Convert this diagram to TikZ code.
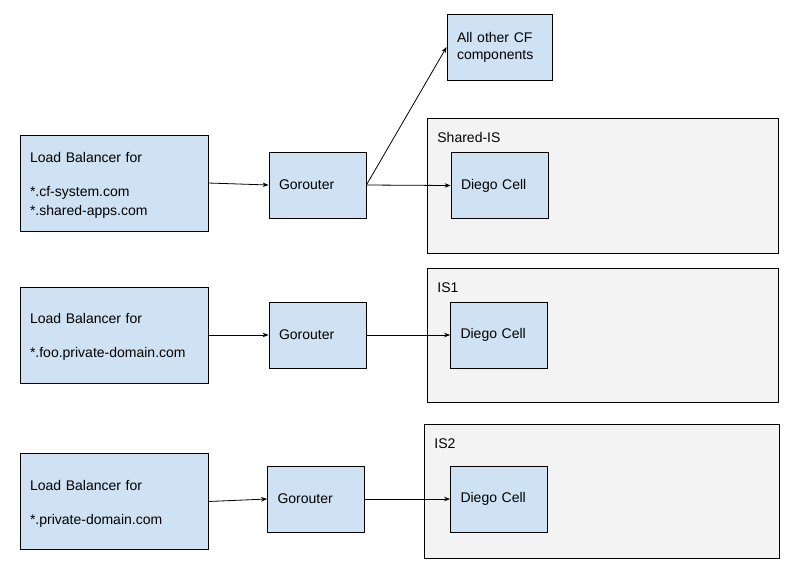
\documentclass[tikz,border=0pt]{standalone}
\usepackage{fontspec}
\setmainfont{Liberation Sans}
\usepackage{xcolor}
\usepackage{tikz}
\usetikzlibrary{arrows.meta,positioning}
\definecolor{cellblue}{HTML}{CFE2F3}
\definecolor{segmentgray}{HTML}{F3F3F3}
\tikzset{
	cellbox/.style={draw, fill=cellblue, inner xsep=10pt, inner ysep=0pt, align=left},
	lbbox/.style={cellbox, minimum width=188pt, minimum height=96pt, text width=168pt},
	routerbox/.style={cellbox, minimum width=97pt, minimum height=66pt, text width=77pt},
	segment/.style={draw, fill=segmentgray, anchor=north west, inner sep=0pt},
	segmentlabel/.style={anchor=base west, inner sep=0pt}
}
\newcommand{\plotIsolationSegment}[6]
{
	\node[segment, minimum width=#4, minimum height=#5] (#1) at (#2,#3) {};
	\node[segmentlabel] (#1-label) at ([xshift=10pt,yshift=-24pt]#1.north west) {#6};
}

\begin{document}
\begin{tikzpicture}[x=1pt,y=-1pt,>={Stealth[length=6pt,width=4.5pt]},thick,
	every node/.style={font=\fontsize{14}{19}\selectfont}]
\useasboundingbox (0,0) rectangle (798,582);

\plotIsolationSegment{SharedIS}{427}{118}{351pt}{135pt}{Shared-IS}
\plotIsolationSegment{IS1}{427}{268}{351pt}{134pt}{IS1}
\plotIsolationSegment{IS2}{424}{424}{355pt}{134pt}{IS2}

\node[lbbox] (LB1) at (114,183) {\rule{0pt}{15pt}Load Balancer for\\[15pt]*.cf-system.com\\{}*.shared-apps.com};
\node[lbbox] (LB2) at (114,335) {\rule{0pt}{14pt}Load Balancer for\\[15pt]*.foo.private-domain.com};
\node[lbbox] (LB3) at (114,501.5) {\rule{0pt}{14pt}Load Balancer for\\[15pt]*.private-domain.com};

\node[routerbox] (GR1) at (317.5,185) {Gorouter};
\node[routerbox] (GR2) at (317.5,335) {Gorouter};
\node[routerbox] (GR3) at (316,499) {Gorouter};

\node[routerbox] (DC1) at (499.5,185.5) {Diego Cell};
\node[routerbox] (DC2) at (499,335) {Diego Cell};
\node[routerbox] (DC3) at (499,499) {Diego Cell};

\node[cellbox, minimum width=105pt, minimum height=66pt, text width=85pt,
	font=\fontsize{14}{17}\selectfont] (Other) at (499.5,47) {All other CF\\components};

\draw[->] (LB1.east) -- (GR1.west);
\draw[->] (GR1.east) -- (DC1.west);
\draw[->] (GR1.east) -- (Other.west);
\draw[->] (LB2.east) -- (GR2.west);
\draw[->] (GR2.east) -- (DC2.west);
\draw[->] (LB3.east) -- (GR3.west);
\draw[->] (GR3.east) -- (DC3.west);
\end{tikzpicture}
\end{document}
